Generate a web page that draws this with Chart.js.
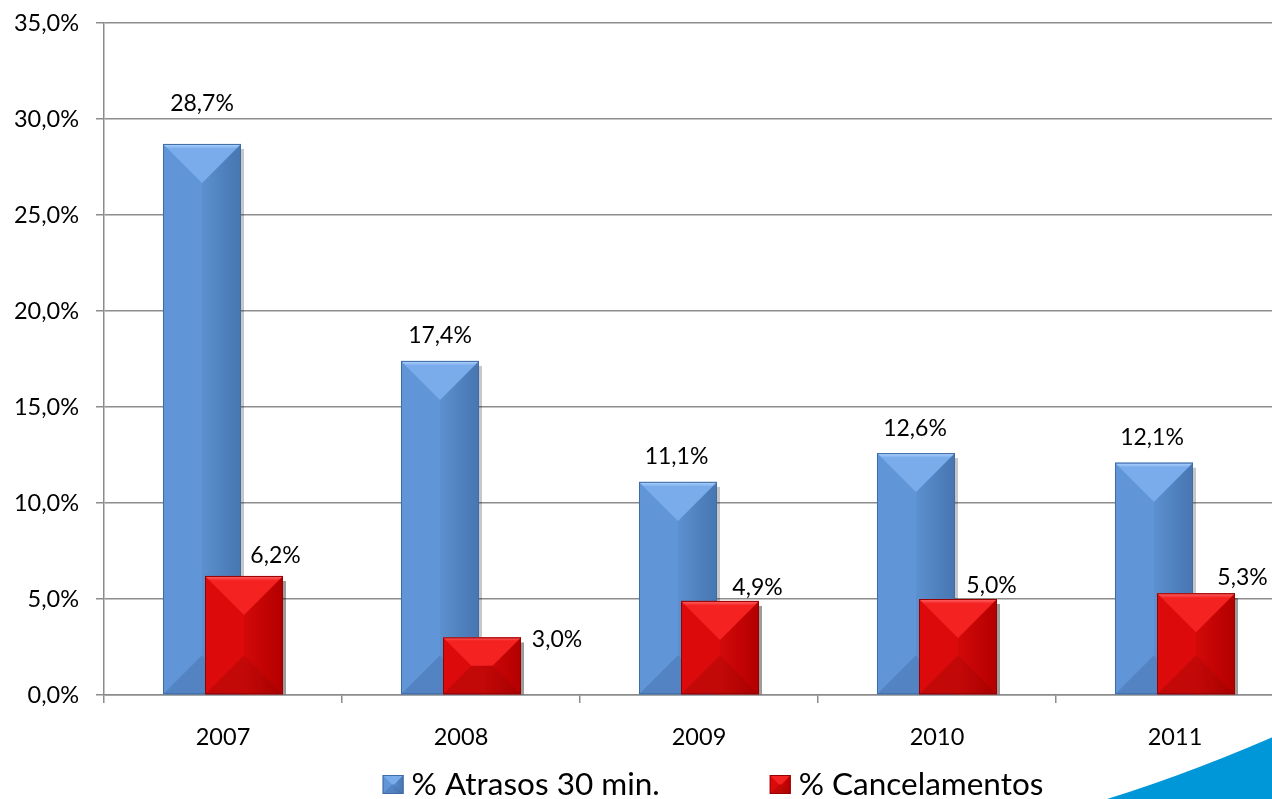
<!DOCTYPE html>
<html>
<head>
<meta charset="utf-8">
<script src="https://cdn.jsdelivr.net/npm/chart.js@4/dist/chart.umd.min.js"></script>
<style>
  html, body { margin: 0; padding: 0; background: #ffffff; }
  #wrap { width: 1272px; height: 799px; overflow: hidden; position: relative; }
  canvas { display: block; }
</style>
</head>
<body>
<div id="wrap"><canvas id="c" width="1294" height="799"></canvas></div>
<script>
// ---- data ----
const years = ['2007', '2008', '2009', '2010', '2011'];
const atrasos = [28.7, 17.4, 11.1, 12.6, 12.1];
const cancelamentos = [6.2, 3.0, 4.9, 5.0, 5.3];
const seriesNames = ['% Atrasos 30 min.', '% Cancelamentos'];
const yMin = 0, yMax = 35, yStep = 5;

// ---- styling ----
const FONT = 'Lato, "Open Sans", "DejaVu Sans", sans-serif';
const GRID = '#8c8c8c';
const fmt = v => v.toFixed(1).replace('.', ',') + '%';

// bevelled bar look, one palette per series
const palettes = [
  { top: ['#b4d6ff', '#7aacec'], body: ['#6096d8', '#4a7bb8'], bottom: 'rgba(20,40,80,0.16)', edge: '#3f6ca6', base: '#5588c8' },
  { top: ['#ff6a6a', '#f52222'], body: ['#dc0a0a', '#bb0000'], bottom: 'rgba(70,0,0,0.16)', edge: '#960000', base: '#cc0000' }
];

// value-label placement relative to the top centre of each bar (cap-centre offsets)
const labelOffsets = [
  [[0, -41], [0, -25.5], [-1.5, -26], [-1, -25.5], [-2, -26]],
  [[31.5, -20.5], [75, 2], [37.5, -14], [33.5, -14.5], [46.5, -16]]
];

function poly(ctx, pts, fill) {
  ctx.beginPath();
  ctx.moveTo(pts[0][0], pts[0][1]);
  for (let i = 1; i < pts.length; i++) ctx.lineTo(pts[i][0], pts[i][1]);
  ctx.closePath();
  ctx.fillStyle = fill;
  ctx.fill();
}

function bevelRect(ctx, L, T, R, B, p, maxBevel) {
  const w = R - L, h = B - T;
  if (w <= 0 || h <= 0) return;
  const b = Math.min(w / 2, h / 2, maxBevel);
  ctx.save();
  const g = ctx.createLinearGradient(L, 0, R, 0);
  g.addColorStop(0, p.body[0]);
  g.addColorStop(0.5, p.body[0]);
  g.addColorStop(1, p.body[1]);
  ctx.fillStyle = g;
  ctx.fillRect(L, T, w, h);
  // right facet, slightly darker
  poly(ctx, [[R, T], [R - b, T + b], [R - b, B - b], [R, B]], 'rgba(0,0,0,0.04)');
  // top facet
  const gt = ctx.createLinearGradient(0, T, 0, T + b);
  gt.addColorStop(0, p.top[0]);
  gt.addColorStop(0.12, p.top[1]);
  gt.addColorStop(1, p.top[1]);
  poly(ctx, [[L, T], [R, T], [R - b, T + b], [L + b, T + b]], gt);
  // bottom facet
  poly(ctx, [[L, B], [R, B], [R - b, B - b], [L + b, B - b]], p.bottom);
  ctx.strokeStyle = p.edge;
  ctx.lineWidth = 1;
  ctx.strokeRect(L + 0.5, T + 0.5, w - 1, h - 1);
  ctx.restore();
}

function barBoxes(chart, di) {
  return chart.getDatasetMeta(di).data.map(el => el.getProps(['x', 'y', 'base', 'width'], true));
}

// drop shadows under the bars, then the bevelled faces painted series by series
// (first series first, so the second series sits in front of it)
const bevelBars = {
  id: 'bevelBars',
  beforeDatasetsDraw(chart) {
    const ctx = chart.ctx;
    const a = chart.chartArea;
    ctx.save();
    ctx.beginPath();
    ctx.rect(a.left, a.top, a.right - a.left, a.bottom - a.top);
    ctx.clip();
    chart.data.datasets.forEach((ds, di) => {
      barBoxes(chart, di).forEach(({ x, y, base, width }) => {
        ctx.fillStyle = 'rgba(0,0,0,0.22)';
        ctx.fillRect(x + width / 2, y + 5, 3, base - y - 5);
      });
    });
    ctx.restore();
  },
  afterDatasetsDraw(chart) {
    const ctx = chart.ctx;
    chart.data.datasets.forEach((ds, di) => {
      barBoxes(chart, di).forEach(({ x, y, base, width }) => {
        if (di > 0) {
          ctx.fillStyle = 'rgba(0,0,0,0.22)';
          ctx.fillRect(x + width / 2, y + 5, 3, base - y - 5);
        }
        bevelRect(ctx, x - width / 2, y, x + width / 2, base, palettes[di], 40);
      });
    });
  }
};

// value labels above / beside the bars
const valueLabels = {
  id: 'valueLabels',
  afterDatasetsDraw(chart) {
    const ctx = chart.ctx;
    ctx.save();
    ctx.font = '23px ' + FONT;
    ctx.fillStyle = '#000000';
    ctx.textAlign = 'center';
    ctx.textBaseline = 'alphabetic';
    chart.data.datasets.forEach((ds, di) => {
      const meta = chart.getDatasetMeta(di);
      meta.data.forEach((el, i) => {
        const [dx, dy] = labelOffsets[di][i];
        ctx.fillText(fmt(ds.data[i]), el.x + dx, el.y + dy + 8);
      });
    });
    ctx.restore();
  }
};

// legend row with bevelled swatches, and the blue corner swoosh
const legendAndCorner = {
  id: 'legendAndCorner',
  afterDraw(chart) {
    const ctx = chart.ctx;
    ctx.save();
    // corner swoosh
    ctx.beginPath();
    ctx.moveTo(1107, 799);
    ctx.quadraticCurveTo(1200, 770, 1300, 725);
    ctx.lineTo(1300, 799);
    ctx.closePath();
    ctx.fillStyle = '#0097d9';
    ctx.fill();

    // legend
    ctx.font = '31.5px ' + FONT;
    const boxW = 21, boxH = 19, gap = 8, itemGap = 110, center = 713;
    const widths = chart.data.datasets.map(ds => boxW + gap + ctx.measureText(ds.label).width);
    const total = widths.reduce((a, b) => a + b, 0) + itemGap * (widths.length - 1);
    let x = center - total / 2;
    chart.data.datasets.forEach((ds, i) => {
      bevelRect(ctx, x, 775, x + boxW, 775 + boxH, palettes[i], 10);
      ctx.fillStyle = '#000000';
      ctx.textAlign = 'left';
      ctx.textBaseline = 'alphabetic';
      ctx.fillText(ds.label, x + boxW + gap, 795);
      x += widths[i] + itemGap;
    });
    ctx.restore();
  }
};

new Chart(document.getElementById('c'), {
  type: 'bar',
  data: {
    labels: years,
    datasets: [
      { label: seriesNames[0], data: atrasos, backgroundColor: palettes[0].base, borderWidth: 0,
        categoryPercentage: 0.353, barPercentage: 1.857 },
      { label: seriesNames[1], data: cancelamentos, backgroundColor: palettes[1].base, borderWidth: 0,
        categoryPercentage: 0.353, barPercentage: 1.857 }
    ]
  },
  options: {
    responsive: false,
    animation: false,
    layout: { padding: { top: 23, right: 0, bottom: 0, left: 0 } },
    plugins: {
      legend: { display: false },
      tooltip: { enabled: false }
    },
    scales: {
      x: {
        grid: { drawOnChartArea: false, drawTicks: true, tickLength: 8, color: GRID, lineWidth: 1.5, offset: true },
        border: { color: GRID, width: 1.5 },
        ticks: { color: '#000000', font: { family: FONT, size: 23.5 }, padding: 20 },
        afterFit: s => { s.height = 104; s.paddingLeft = 0; s.paddingRight = 0; }
      },
      y: {
        min: yMin,
        max: yMax,
        grid: { color: GRID, lineWidth: 1.5, tickLength: 8 },
        border: { color: GRID, width: 1.5 },
        ticks: { stepSize: yStep, color: '#000000', font: { family: FONT, size: 23.5 }, padding: 17,
                 callback: v => fmt(v) },
        afterFit: s => { s.width = 104; s.paddingTop = 0; s.paddingBottom = 0; }
      }
    }
  },
  plugins: [bevelBars, valueLabels, legendAndCorner]
});
</script>
</body>
</html>
